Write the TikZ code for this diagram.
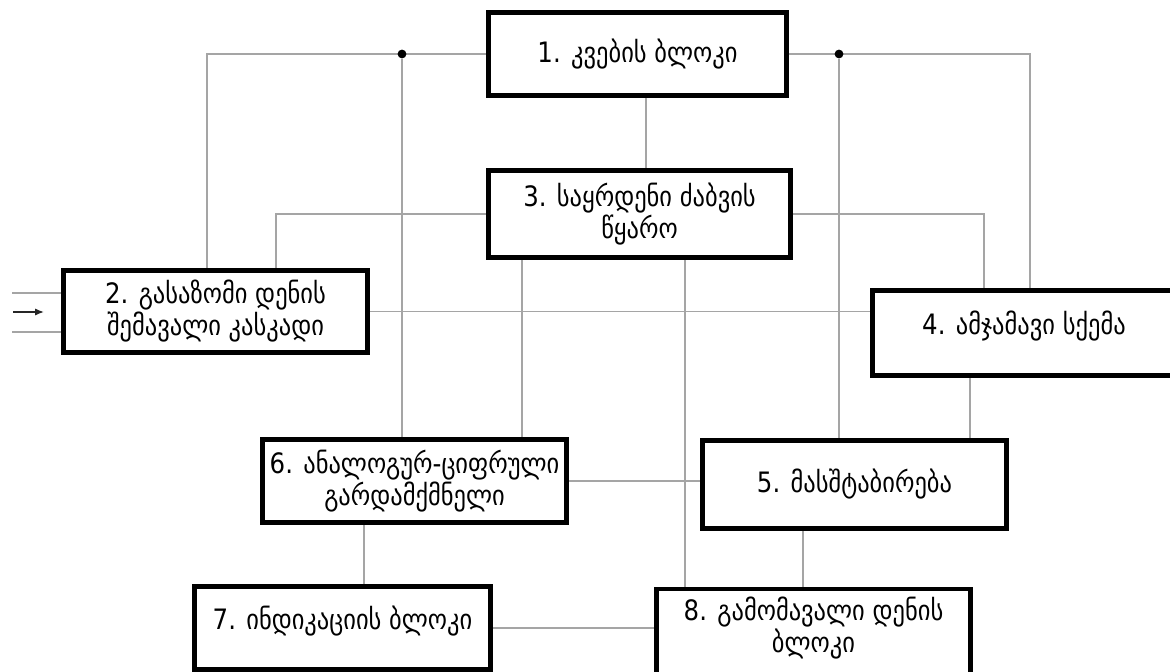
\documentclass[tikz,border=0pt]{standalone}
\usepackage{fontspec}
\newfontfamily\geofont[FakeStretch=0.87]{DejaVu Sans}
\usetikzlibrary{arrows.meta, backgrounds}
\definecolor{wiregray}{RGB}{165,165,165}
\tikzset{
  blok/.style={draw=black, line width=2.8pt, fill=white, inner sep=0pt, align=center,
               font=\geofont\fontsize{16}{13}\selectfont},
  wire/.style={draw=wiregray, line width=0.9pt},
  junc/.style={circle, fill=black, inner sep=0pt, minimum size=5pt}
}
\begin{document}
\begin{tikzpicture}[x=0.02cm, y=-0.02cm]

\useasboundingbox (0,0) rectangle (1170,672);
\clip (0,0) rectangle (1170,672);

%% === BLOCKS ===
\node[blok, minimum width=5.96cm, minimum height=1.66cm] (kv)  at (637.5, 54)   {1. კვების ბლოკი};
\node[blok, minimum width=6.04cm, minimum height=1.74cm] (ref) at (639.5,214)   {3. საყრდენი ძაბვის\\წყარო};
\node[blok, minimum width=6.08cm, minimum height=1.64cm] (inp) at (215.5,311.5) {2. გასაზომი დენის\\შემავალი კასკადი};
\node[blok, minimum width=6.06cm, minimum height=1.70cm, text depth=12pt] (sum) at (1024,333) {4. ამჯამავი სქემა};
\node[blok, minimum width=6.08cm, minimum height=1.66cm] (adc) at (414.5,481)   {6. ანალოგურ-ციფრული\\გარდამქმნელი};
\node[blok, minimum width=6.08cm, minimum height=1.76cm] (scl) at (854.5,484.5) {5. მასშტაბირება};
\node[blok, minimum width=5.92cm, minimum height=1.66cm, text depth=12pt] (ind) at (342.5,628) {7. ინდიკაციის ბლოკი};
\node[blok, minimum width=6.28cm, minimum height=1.76cm, text depth=9pt] (out) at (813.5,633) {8. გამომავალი დენის\\ბლოკი};

%% junctions on the top bus
\node[junc] (d1) at (402,0 |- kv.west) {};
\node[junc] (d2) at (839,0 |- kv.east) {};

%% input leads
\coordinate (in1) at (12,293);
\coordinate (in2) at (13,312);
\coordinate (in2e) at (44,312);
\coordinate (in3) at (12,332);

%% === WIRES ===
\begin{scope}[on background layer]
\draw[wire] (kv.west) -| (207,0 |- inp.north);
\draw[wire] (d1) -- (d1 |- adc.north);
\draw[wire] (kv.east) -| (1030,0 |- sum.north);
\draw[wire] (d2) -- (d2 |- scl.north);
\draw[wire] (kv.south -| 646,0) -- (646,0 |- ref.north);
\draw[wire] (ref.west) -| (276,0 |- inp.north);
\draw[wire] (ref.east) -| (984,0 |- sum.north);
\draw[wire] (ref.south -| 522,0) -- (522,0 |- adc.north);
\draw[wire] (ref.south -| 685,0) -- (685,0 |- out.north);
\draw[wire] (inp.east) -- (inp.east -| sum.west);
\draw[wire] (sum.south -| 970,0) -- (970,0 |- scl.north);
\draw[wire] (adc.east) -- (adc.east -| scl.west);
\draw[wire] (adc.south -| 364,0) -- (364,0 |- ind.north);
\draw[wire] (scl.south -| 803,0) -- (803,0 |- out.north);
\draw[wire] (ind.east) -- (ind.east -| out.west);

\draw[wire] (in1) -- (in1 -| inp.west);
\draw[wire] (in3) -- (in3 -| inp.west);
\end{scope}
\draw[black!85, line width=0.8pt, -{Latex[length=5pt, width=4pt]}] (in2) -- (in2e);

\end{tikzpicture}
\end{document}
